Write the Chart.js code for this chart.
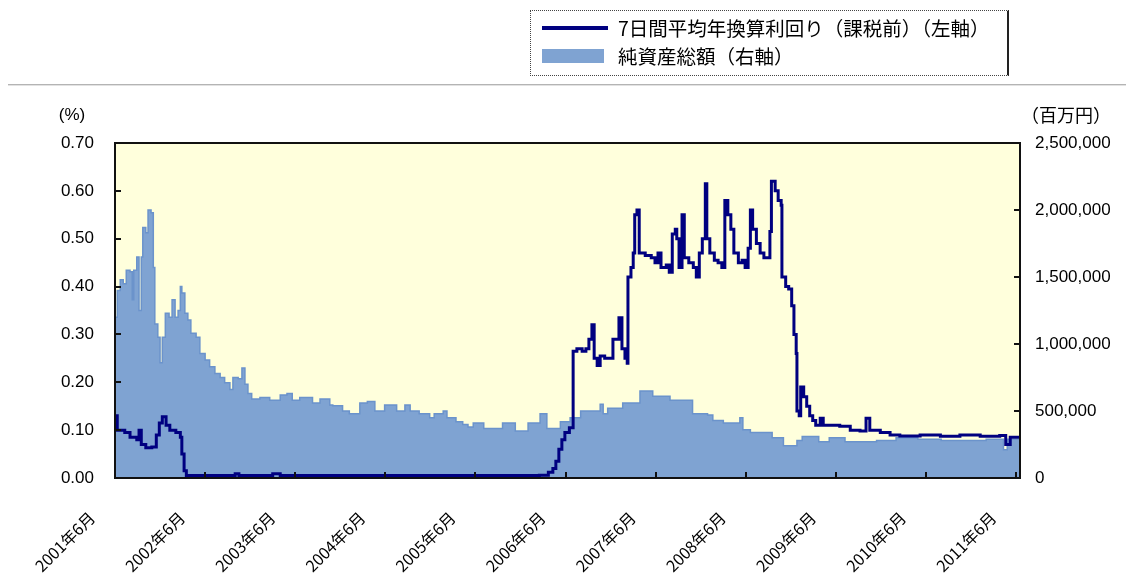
<!DOCTYPE html>
<html lang="ja">
<head>
<meta charset="utf-8">
<script src="https://cdn.jsdelivr.net/npm/chart.js@4.4.1/dist/chart.umd.min.js"></script>
<style>
  body { margin: 0; background: #fff; }
  #wrap { position: relative; width: 1126px; height: 581px; overflow: hidden; }
  #sep { position: absolute; left: 8px; right: 0; top: 84px; height: 0; border-top: 1px solid #b4b4b4; border-bottom: 1px solid #e2e2e2; }
  #legend { position: absolute; left: 530px; top: 10px; width: 476px; height: 64px; border: 1px dotted #444; border-right: 2px solid #222;
            font-family: "Noto Sans CJK JP", sans-serif; font-size: 19.5px; color: #000; }
  .row { position: absolute; left: 11px; height: 22px; line-height: 22px; }
  .row span { position: absolute; left: 76px; white-space: nowrap; }
  .sw-line { position: absolute; left: 0; top: 9px; width: 66px; height: 3px; background: #000080; border-bottom: 1px dotted #000080; }
  .sw-area { position: absolute; left: 0; top: 4px; width: 62px; height: 14px; background: #7fa3d2; }
</style>
</head>
<body>
<div id="wrap">
  <canvas id="c" width="1126" height="581"></canvas>
  <div id="sep"></div>
  <div id="legend">
    <div class="row" style="top:6px"><div class="sw-line"></div><span id="lg1"></span></div>
    <div class="row" style="top:34px"><div class="sw-area"></div><span id="lg2"></span></div>
  </div>
</div>
<script>
// labels
var rateLabel = '7日間平均年換算利回り（課税前）（左軸）';
var assetLabel = '純資産総額（右軸）';
var yearLabels = ['2001年6月', '2002年6月', '2003年6月', '2004年6月', '2005年6月', '2006年6月',
                  '2007年6月', '2008年6月', '2009年6月', '2010年6月', '2011年6月'];
var yearTicks = [0, 12, 24, 36, 48, 60, 72, 84, 96, 108, 120]; // months since 2001/6

// 7-day yield (%), left axis. x = months since 2001/6
var rateMonth = [0, 0.3, 1.3, 2.0, 2.9, 3.2, 3.5, 4.1, 4.9, 5.5, 5.9, 6.3, 6.8, 7.3, 8.1, 8.7, 8.9, 9.2, 9.5,
  12.0, 16.0, 16.5, 21.0, 22.0, 30.0, 38.0, 45.0, 52.0, 56.5, 57.7, 58.3, 58.7, 59.1, 59.5, 59.9, 60.5,
  61.0, 61.5, 62.2, 62.7, 63.1, 63.5, 63.8, 64.2, 64.6, 65.2, 65.9, 66.3, 66.7, 67.1, 67.5, 67.9, 68.2,
  68.3, 68.7, 69.0, 69.2, 69.5, 69.8, 70.6, 71.4, 71.9, 72.3, 72.7, 73.4, 73.8, 74.2, 74.6, 74.8, 75.1,
  75.5, 75.8, 76.4, 77.0, 77.4, 77.8, 78.2, 78.6, 78.8, 79.2, 79.8, 80.3, 80.8, 81.2, 81.6, 82.0, 82.4,
  83.0, 83.5, 83.9, 84.3, 84.6, 84.9, 85.4, 85.9, 86.4, 86.9, 87.2, 87.4, 87.9, 88.3, 88.7, 88.8, 89.3,
  89.7, 90.1, 90.4, 90.7, 90.8, 91.1, 91.3, 91.7, 92.1, 92.5, 92.9, 93.3, 93.9, 94.3, 95.2, 96.5, 97.9,
  99.2, 100.0, 100.5, 101.9, 103.2, 104.5, 107.2, 109.9, 112.5, 115.2, 117.8, 118.6, 119.2, 120.5];
var rateValue = [0.13, 0.10, 0.095, 0.085, 0.08, 0.10, 0.07, 0.063, 0.065, 0.09, 0.115, 0.128, 0.11, 0.10, 0.095, 0.085, 0.05, 0.015, 0.005,
  0.005, 0.009, 0.005, 0.009, 0.005, 0.005, 0.005, 0.005, 0.005, 0.006, 0.012, 0.02, 0.035, 0.06, 0.08, 0.095, 0.105,
  0.265, 0.27, 0.265, 0.27, 0.29, 0.32, 0.25, 0.235, 0.255, 0.25, 0.25, 0.29, 0.29, 0.335, 0.27, 0.25, 0.24,
  0.42, 0.44, 0.47, 0.55, 0.56, 0.47, 0.465, 0.46, 0.45, 0.47, 0.44, 0.445, 0.43, 0.51, 0.52, 0.50, 0.44,
  0.55, 0.46, 0.45, 0.44, 0.42, 0.47, 0.50, 0.615, 0.50, 0.47, 0.455, 0.45, 0.44, 0.58, 0.55, 0.52, 0.47,
  0.45, 0.455, 0.44, 0.48, 0.56, 0.52, 0.49, 0.47, 0.46, 0.46, 0.515, 0.62, 0.60, 0.58, 0.57, 0.42, 0.40,
  0.395, 0.36, 0.30, 0.26, 0.14, 0.13, 0.19, 0.17, 0.15, 0.13, 0.12, 0.11, 0.125, 0.11, 0.11, 0.108, 0.10,
  0.098, 0.125, 0.10, 0.095, 0.09, 0.088, 0.09, 0.087, 0.09, 0.087, 0.089, 0.07, 0.085, 0.088];

// net assets (百万円), right axis
var assetMonth = [0, 0.3, 0.7, 1.1, 1.5, 2.0, 2.3, 2.5, 2.9, 3.2, 3.5, 3.7, 4.1, 4.4, 4.8, 5.1, 5.3, 5.7, 6.0,
  6.3, 6.7, 7.2, 7.6, 8.0, 8.4, 8.7, 8.9, 9.3, 9.7, 10.1, 10.8, 11.3, 12.0, 12.6, 13.3, 14.0, 14.6, 15.3,
  15.7, 16.4, 16.9, 17.3, 17.7, 18.2, 19.3, 20.6, 22.0, 22.9, 23.6, 24.6, 26.3, 27.3, 28.6, 29.0, 30.3,
  31.2, 32.6, 33.6, 34.6, 35.9, 37.5, 38.6, 39.3, 40.5, 41.9, 42.5, 43.7, 44.2, 45.4, 46.3, 47.0, 47.7,
  49.1, 51.6, 53.3, 55.0, 56.6, 57.5, 59.3, 60.6, 62.0, 64.6, 65.0, 65.6, 67.6, 69.9, 71.6, 73.9, 76.9,
  78.9, 79.6, 81.0, 83.2, 83.6, 84.6, 87.5, 89.0, 90.8, 91.5, 93.7, 95.1, 97.2, 101.4, 104.0, 106.9,
  110.0, 116.0, 118.3, 118.8, 120.5];
var assetValue = [1200000, 1400000, 1480000, 1450000, 1550000, 1540000, 1330000, 1550000, 1650000, 1250000, 1650000, 1870000, 1830000, 2000000, 1980000, 1570000, 1150000, 1050000, 860000,
  1050000, 1230000, 1200000, 1330000, 1200000, 1250000, 1430000, 1380000, 1230000, 1180000, 1080000, 1050000, 930000, 880000, 830000, 780000, 750000, 710000, 660000,
  750000, 740000, 820000, 700000, 630000, 590000, 600000, 580000, 620000, 630000, 580000, 600000, 560000, 590000, 545000, 540000, 500000,
  480000, 560000, 570000, 500000, 545000, 500000, 545000, 500000, 480000, 450000, 480000, 500000, 450000, 420000, 400000, 380000, 410000,
  370000, 410000, 350000, 410000, 480000, 370000, 420000, 450000, 500000, 550000, 480000, 520000, 560000, 650000, 610000, 580000, 480000,
  470000, 430000, 410000, 450000, 360000, 340000, 300000, 240000, 280000, 310000, 270000, 300000, 270000, 280000, 300000, 290000,
  280000, 290000, 210000, 290000, 300000];

var numFont = '"Liberation Sans", "Noto Sans CJK JP", sans-serif';
var jpFont = '"Noto Sans CJK JP", sans-serif';

document.getElementById('lg1').textContent = rateLabel;
document.getElementById('lg2').textContent = assetLabel;

function toPoints(xs, ys) {
  return xs.map(function (m, i) { return { x: m, y: ys[i] }; });
}

var framePlugin = {
  id: 'frame',
  beforeDraw: function (chart) {
    var a = chart.chartArea, ctx = chart.ctx;
    ctx.save();
    ctx.fillStyle = '#ffffdc';
    ctx.fillRect(a.left, a.top, a.right - a.left, a.bottom - a.top);
    ctx.restore();
  },
  afterDatasetsDraw: function (chart) {
    var a = chart.chartArea, ctx = chart.ctx, s = chart.scales;
    ctx.save();
    ctx.strokeStyle = '#111';
    ctx.lineWidth = 2;
    ctx.strokeRect(a.left, a.top, a.right - a.left, a.bottom - a.top);
    ctx.beginPath();
    s.y.ticks.forEach(function (t) {
      var p = Math.round(s.y.getPixelForValue(t.value));
      ctx.moveTo(a.left, p); ctx.lineTo(a.left + 6, p);
    });
    s.y2.ticks.forEach(function (t) {
      var p = Math.round(s.y2.getPixelForValue(t.value));
      ctx.moveTo(a.right - 6, p); ctx.lineTo(a.right, p);
    });
    s.x.ticks.forEach(function (t) {
      var p = Math.round(s.x.getPixelForValue(t.value));
      ctx.moveTo(p, a.bottom); ctx.lineTo(p, a.bottom - 6);
    });
    ctx.stroke();
    ctx.fillStyle = '#000';
    ctx.textBaseline = 'middle';
    ctx.font = '17px ' + numFont;
    ctx.textAlign = 'center';
    ctx.fillText('(%)', 72, 115);
    ctx.font = '18px ' + jpFont;
    ctx.textAlign = 'left';
    ctx.fillText('（百万円）', 1021, 115);
    ctx.restore();
  }
};

var ctx = document.getElementById('c').getContext('2d');
var chart = new Chart(ctx, {
  type: 'line',
  data: {
    datasets: [
      { label: rateLabel, data: toPoints(rateMonth, rateValue), yAxisID: 'y', borderColor: '#000080', borderWidth: 3,
        pointRadius: 0, stepped: true, fill: false },
      { label: assetLabel, data: toPoints(assetMonth, assetValue), yAxisID: 'y2', borderColor: '#6b93cb', borderWidth: 1.5,
        backgroundColor: '#7fa3d2', fill: 'origin', pointRadius: 0, stepped: true }
    ]
  },
  options: {
    responsive: false, animation: false,
    layout: { padding: { top: 143, left: 0, right: 0, bottom: 0 } },
    plugins: { legend: { display: false }, tooltip: { enabled: false } },
    scales: {
      x: {
        type: 'linear', min: 0, max: 120.5,
        afterBuildTicks: function (s) { s.ticks = yearTicks.map(function (v) { return { value: v }; }); },
        afterFit: function (s) { s.height = 103; },
        grid: { display: false, drawTicks: false }, border: { display: false },
        ticks: { autoSkip: false, minRotation: 45, maxRotation: 45, labelOffset: -23, padding: 30, color: '#000',
                 font: { family: jpFont, size: 16 },
                 callback: function (v) { return yearLabels[yearTicks.indexOf(v)]; } }
      },
      y: {
        position: 'left', min: 0, max: 0.7,
        afterFit: function (s) { s.width = 115; },
        grid: { display: false, drawTicks: false }, border: { display: false },
        ticks: { stepSize: 0.1, padding: 21, color: '#000', font: { family: numFont, size: 17 },
                 callback: function (v) { return v.toFixed(2); } }
      },
      y2: {
        position: 'right', min: 0, max: 2500000,
        afterFit: function (s) { s.width = 106; },
        grid: { display: false, drawTicks: false }, border: { display: false },
        ticks: { stepSize: 500000, padding: 15, color: '#000', font: { family: numFont, size: 17 },
                 callback: function (v) { return v.toLocaleString('en-US'); } }
      }
    }
  },
  plugins: [framePlugin]
});
</script>
</body>
</html>
